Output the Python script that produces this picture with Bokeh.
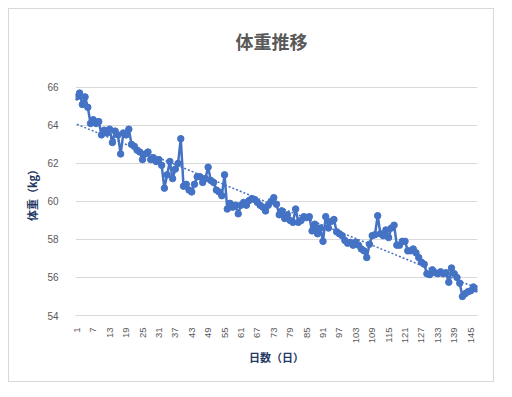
import numpy as np
from bokeh.plotting import figure
from bokeh.layouts import column
from bokeh.models import FixedTicker, Range1d
from bokeh.embed import file_html
from bokeh.resources import INLINE

# ---- data ----
days = list(range(1, 148))
weights = [
    65.5, 65.7, 65.1, 65.5, 64.95, 64.1, 64.3, 64.1, 64.2, 63.5,
    63.75, 63.6, 63.8, 63.1, 63.7, 63.5, 62.5, 63.6, 63.5, 63.8,
    63.0, 62.9, 62.7, 62.6, 62.2, 62.5, 62.6, 62.2, 62.3, 62.1,
    62.2, 61.9, 60.7, 61.4, 62.1, 61.2, 61.7, 62.0, 63.3, 60.8,
    60.9, 60.6, 60.5, 60.9, 61.3, 61.3, 61.0, 61.2, 61.8, 61.1,
    61.0, 60.6, 60.5, 60.3, 61.4, 59.6, 59.9, 59.7, 59.8, 59.35,
    59.8, 59.95, 59.8, 60.05, 60.15, 60.1, 59.95, 59.8, 59.7, 59.5,
    59.8, 60.0, 60.2, 59.85, 59.3, 59.5, 59.1, 59.3, 59.0, 58.9,
    59.6, 58.9, 59.0, 59.2, 59.15, 59.2, 58.45, 58.8, 58.3, 58.6,
    57.9, 59.2, 58.6, 58.95, 59.05, 58.4, 58.3, 58.2, 57.95, 57.8,
    57.85, 57.7, 57.85, 57.7, 57.5, 57.4, 57.05, 57.75, 58.2, 58.25,
    59.25, 58.3, 58.2, 58.5, 58.1, 58.6, 58.75, 57.7, 57.7, 57.9,
    57.9, 57.4, 57.4, 57.5, 57.3, 57.05, 56.8, 56.7, 56.2, 56.15,
    56.4, 56.25, 56.2, 56.3, 56.2, 56.25, 55.75, 56.5, 56.2, 56.0,
    55.7, 55.0, 55.15, 55.25, 55.3, 55.5, 55.4,
]
x_tick_days = list(range(1, 146, 6))
y_ticks = [54, 56, 58, 60, 62, 64, 66]

title_text = "体重推移"
x_label = "日数（日）"
y_label = "体重（kg）"

BLUE = "#4472C4"
GRID = "#D9D9D9"
TXT = "#595959"
NAVY = "#1F3864"
JP = "Noto Sans CJK JP"

# linear trend (Excel-like linear trendline)
slope, intercept = np.polyfit(days, weights, 1)
trend = [slope * d + intercept for d in days]

# top of range padded (invisible headroom, no axis line) so 66 sits below the frame top
p = figure(width=484, height=372, output_backend="svg", toolbar_location=None,
           x_range=Range1d(0.5, 147.5), y_range=Range1d(54, 66.94),
           min_border_left=66, min_border_right=16, min_border_top=54,
           min_border_bottom=66)
p.outline_line_color = None
p.background_fill_color = "white"
p.border_fill_color = "white"

p.title.text = title_text
p.title.align = "left"
p.title.text_font = JP
p.title.text_font_size = "18px"
p.title.text_font_style = "bold"
p.title.text_color = TXT
p.title.standoff = 32
p.title.offset = 160

p.line(days, weights, line_color=BLUE, line_width=2.5)
p.scatter(days, weights, size=6.5, fill_color=BLUE, line_color=BLUE)
p.line(days, trend, line_color=BLUE, line_width=1.5, line_dash="2 2")

# axes
p.xgrid.grid_line_color = None
p.ygrid.grid_line_color = GRID
p.ygrid.ticker = FixedTicker(ticks=y_ticks)

xa = p.xaxis[0]
xa.ticker = FixedTicker(ticks=x_tick_days)
xa.axis_line_color = GRID
xa.major_tick_line_color = None
xa.minor_tick_line_color = None
xa.major_label_orientation = np.pi / 2
xa.major_label_text_font = "Liberation Sans"
xa.major_label_text_font_size = "9.5px"
xa.major_label_text_color = TXT
xa.major_label_standoff = 6
xa.axis_label = x_label
xa.axis_label_text_font = JP
xa.axis_label_text_font_size = "11px"
xa.axis_label_text_font_style = "bold"
xa.axis_label_text_color = NAVY
xa.axis_label_standoff = 3

ya = p.yaxis[0]
ya.ticker = FixedTicker(ticks=y_ticks)
ya.axis_line_color = None
ya.major_tick_line_color = None
ya.minor_tick_line_color = None
ya.major_label_text_font = "Liberation Sans"
ya.major_label_text_font_size = "10px"
ya.major_label_text_color = TXT
ya.major_label_standoff = 11
ya.axis_label = y_label
ya.axis_label_text_font = JP
ya.axis_label_text_font_size = "11px"
ya.axis_label_text_font_style = "bold"
ya.axis_label_text_color = NAVY
ya.axis_label_standoff = 4

layout = column(p, styles={"border": "1px solid #D9D9D9", "margin-left": "8px",
                           "margin-top": "8px"})

open("out.html", "w").write(file_html(layout, INLINE))
